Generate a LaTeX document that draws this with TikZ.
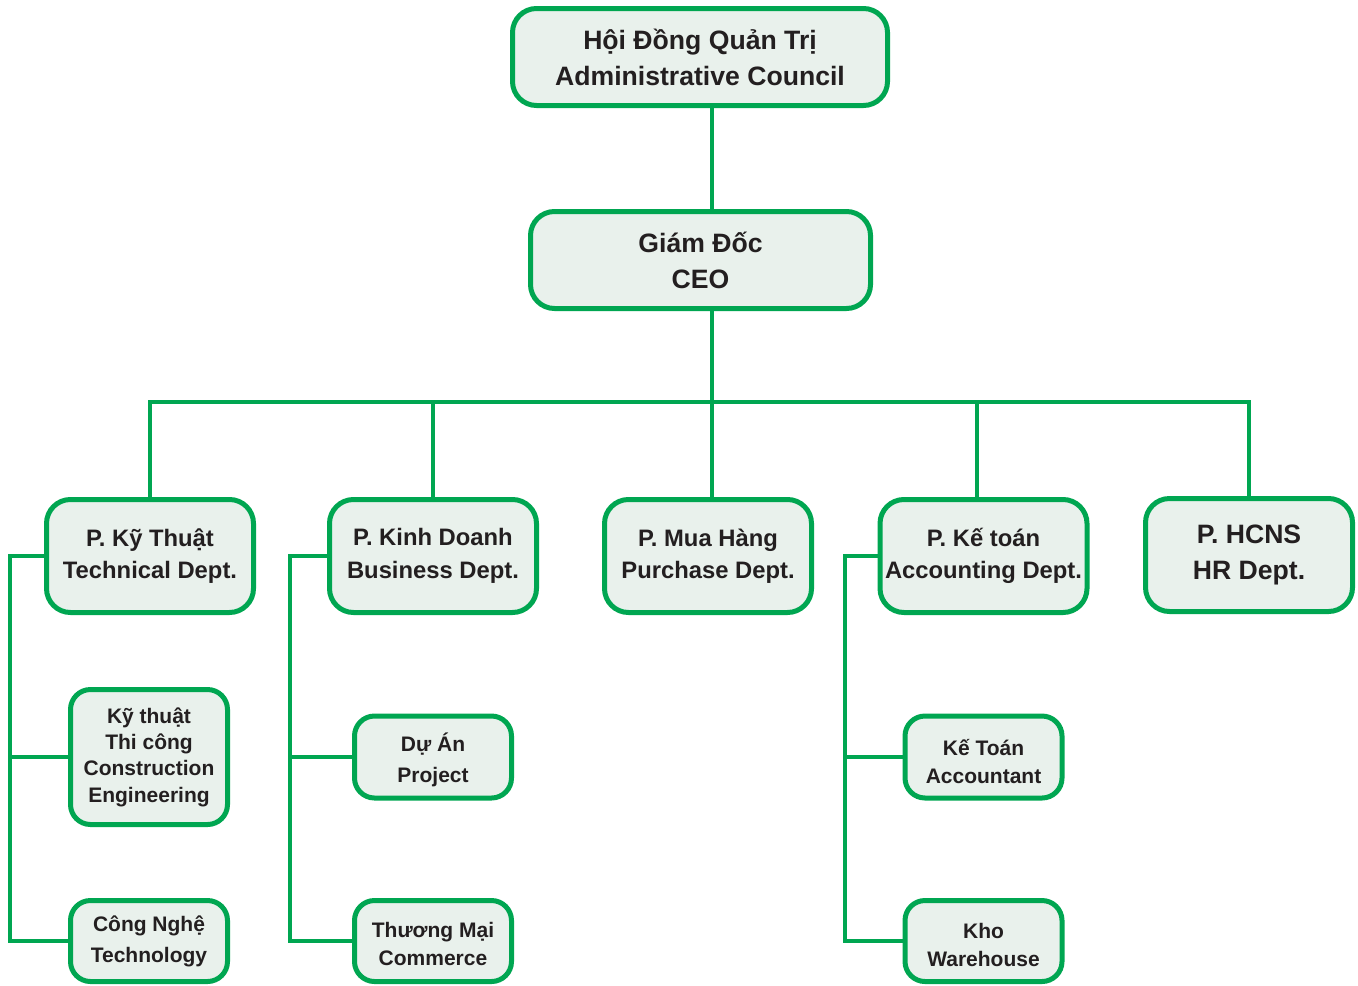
\documentclass[tikz,border=0pt]{standalone}
\usepackage{fontspec}
\setmainfont{Liberation Sans}
\definecolor{gline}{HTML}{00A651}
\definecolor{gfill}{HTML}{E9F1EC}
\definecolor{txt}{HTML}{231F20}
\begin{document}
\begin{tikzpicture}[x=0.5pt,y=-0.5pt,
  box/.style={draw=gline,fill=gfill,line width=2.5pt,inner sep=0pt,align=center,text=txt,font=\bfseries},
  bigbox/.style={box,rounded corners=12pt,font=\bfseries\fontsize{13.3}{18}\selectfont},
  deptbox/.style={box,rounded corners=12pt,minimum width=103.5pt,minimum height=56.5pt,font=\bfseries\fontsize{11.9}{16.2}\selectfont},
  subbox/.style={box,rounded corners=10pt,minimum width=78.5pt,font=\bfseries\fontsize{10.5}{14}\selectfont},
  conn/.style={draw=gline,line width=2pt}]
\useasboundingbox (0,0) rectangle (1358,985);
% coordinates for connector positions
\coordinate (tx) at (712,0);
\coordinate (ax) at (977,0);
\coordinate (busy) at (0,402);
\coordinate (s1) at (10,0);
\coordinate (s2) at (290,0);
\coordinate (s3) at (845,0);
% nodes
\node[bigbox,minimum width=187.5pt,minimum height=48.5pt] (top) at (700,57) {Hội Đồng Quản Trị\\Administrative Council};
\node[bigbox,minimum width=170pt,minimum height=48.5pt] (ceo) at (700.5,260) {Giám Đốc\\CEO};
\node[deptbox] (tech) at (150,556) {P. Kỹ Thuật\\Technical Dept.};
\node[deptbox] (busi) at (433,556) {P. Kinh Doanh\\Business Dept.};
\node[deptbox] (purch) at (708,556) {P. Mua Hàng\\Purchase Dept.};
\node[deptbox] (acc) at (983.5,556) {P. Kế toán\\Accounting Dept.};
\node[deptbox,font=\bfseries\fontsize{13.3}{18}\selectfont] (hr) at (1249,555) {P. HCNS\\HR Dept.};
\node[subbox,minimum height=67.5pt,font=\bfseries\fontsize{10.5}{13.2}\selectfont] (kt) at (149,757) {Kỹ thuật\\Thi công\\Construction\\Engineering};
\node[subbox,minimum height=40.5pt,font=\bfseries\fontsize{10.5}{15.5}\selectfont] (cn) at (149,941) {Công Nghệ\\Technology};
\node[subbox,minimum height=41pt,font=\bfseries\fontsize{10.5}{15.5}\selectfont] (da) at (433,757) {\rule{0pt}{12.5pt}Dự Án\\Project};
\node[subbox,minimum height=40.5pt] (tm) at (433,941) {\rule{0pt}{11pt}Thương Mại\\Commerce};
\node[subbox,minimum height=41pt] (kto) at (983.5,757) {\rule{0pt}{12.5pt}Kế Toán\\Accountant};
\node[subbox,minimum height=40.5pt] (kho) at (983.5,941) {\rule{0pt}{11.5pt}Kho\\Warehouse};
% connectors
\draw[conn] (top.south -| tx) -- (ceo.north -| tx);
\draw[conn] (ceo.south -| tx) -- (purch.north -| tx);
\draw[conn] (tech.north) -- (tech.north |- busy) -- (hr.north |- busy) -- (hr.north);
\draw[conn] (busi.north) -- (busi.north |- busy);
\draw[conn] (acc.north -| ax) -- (ax |- busy);
\draw[conn] (tech.west) -| (s1 |- cn.west) -- (cn.west);
\draw[conn] (s1 |- kt.west) -- (kt.west);
\draw[conn] (busi.west) -| (s2 |- tm.west) -- (tm.west);
\draw[conn] (s2 |- da.west) -- (da.west);
\draw[conn] (acc.west) -| (s3 |- kho.west) -- (kho.west);
\draw[conn] (s3 |- kto.west) -- (kto.west);
\end{tikzpicture}
\end{document}
